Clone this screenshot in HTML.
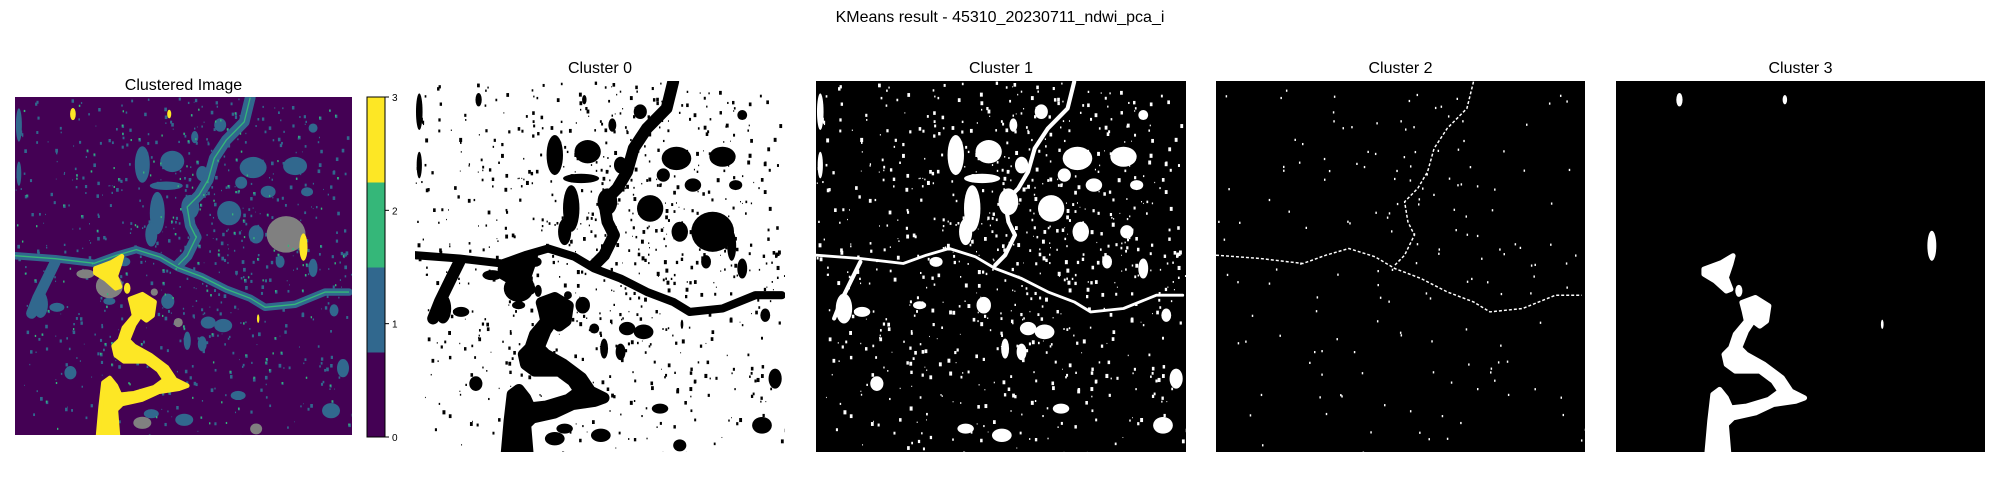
<!DOCTYPE html>
<html><head><meta charset="utf-8"><style>
html,body{margin:0;padding:0;background:#fff;width:2000px;height:500px;overflow:hidden}
svg text{font-family:"Liberation Sans","DejaVu Sans",sans-serif;fill:#000}
</style></head><body>
<svg id="fig" width="2000" height="500" viewBox="0 0 2000 500" xmlns="http://www.w3.org/2000/svg">
<text x="1000" y="22" font-size="16" text-anchor="middle">KMeans result - 45310_20230711_ndwi_pca_i</text>
<g id="panels"></g>
</svg>
<script>
// colorbar data
const cbTicks = [0, 1, 2, 3];
const cbColors = ['#440154', '#31688e', '#35b779', '#fde725'];
const panelTitles = ['Clustered Image', 'Cluster 0', 'Cluster 1', 'Cluster 2', 'Cluster 3'];
// shapes (zoom coords of Cluster 3 panel: x 708..1534, y 242..1352)
const sShape = [[905,805],[945,785],[970,765],[965,790],[955,830],[965,865],[955,870],[930,840],[905,820]];
const sShape2 = [[990,905],[1020,890],[1050,915],[1045,960],[1030,975],[1015,960],[1000,990],[985,1040],[1000,1060],[1040,1090],[1080,1130],[1100,1170],[1130,1190],[1110,1200],[1060,1210],[1020,1235],[970,1250],[955,1270],[960,1352],[912,1352],[918,1260],[925,1180],[940,1165],[955,1190],[965,1220],[1000,1215],[1050,1195],[1075,1170],[1060,1140],[1030,1110],[975,1110],[955,1090],[950,1060],[965,1040],[975,1000],[1000,960],[995,930]];
const yellowBlobs = [[850,298,7,20],[1086,298,5,14],[1415,735,10,45],[1304,970,3,14],[983,870,8,18]];
// river lines (zoom coords of Cluster 0 panel: x 15..1140, y 18..1130)
const mainRiver = [[800,20],[780,100],[720,160],[680,220],[660,290],[630,340],[590,380],[600,440],[620,480],[590,540],[560,570]];
const crossRiver = [[15,540],[150,550],[280,565],[350,540],[420,520],[500,545],[560,580],[640,610],[720,650],[800,680],[850,710],[950,700],[1050,660],[1130,660]];
const westRiver = [[150,560],[120,620],[90,680],[70,730]];
// blue blobs [cx,cy,rx,ry] in Cluster 0 zoom coords
const blueBlobs = [[540,230,40,35],[525,690,22,25],[950,245,40,30],[810,250,45,35],[730,400,40,40],[490,400,25,70],[600,380,30,40],[520,310,55,14],[100,700,25,45],[155,710,25,15],[28,110,10,55],[28,270,8,40],[700,110,20,22],[615,150,12,20],[1110,910,20,30],[200,925,20,22],[660,760,25,20],[710,770,30,22],[820,470,25,30],[960,470,20,20],[440,240,25,60],[470,470,20,40],[1010,120,15,15],[640,830,15,25],[590,820,12,30],[860,330,25,20],[640,270,20,25],[990,330,20,15],[770,300,20,20],[380,560,20,15],[330,690,20,12],[1080,720,15,20],[900,560,15,20],[1010,580,15,30],[470,1060,25,15],[580,1080,30,20],[760,1000,25,15],[1070,1050,30,25]];
const grayBlobs = [[920,470,65,60],[330,640,45,40],[250,600,30,15],[820,1110,20,18],[440,1090,30,20],[560,760,15,15],[480,660,12,12]];
const C3 = (p) => [(p[0]-708)/826, (p[1]-242)/1110];
const C0 = (p) => [(p[0]-15)/1125, (p[1]-18)/1112];
const NS = 'http://www.w3.org/2000/svg';
function mk(tag, attrs, parent){ const e=document.createElementNS(NS,tag); for(const k in attrs) e.setAttribute(k,attrs[k]); parent.appendChild(e); return e; }
function poly(pts, conv, W, H){ return pts.map(p=>{const q=conv(p);return (q[0]*W).toFixed(1)+','+(q[1]*H).toFixed(1);}).join(' '); }
// deterministic speckle texture
let seed = 12345;
function rnd(){ seed = (seed*1103515245+12345) % 2147483648; return seed/2147483648; }
const speck = [];
for(let i=0;i<1400;i++){ const x=rnd(), y=rnd(), s=0.002+rnd()*0.006; const c=Math.hypot(x-0.55,y-0.4); if(rnd()<1.1-c*1.3) speck.push([x,y,s]); }
const panels = [
  {x:15,y:97,w:337,h:338,mode:'cl',ty:90},
  {x:415,y:81,w:370,h:371,mode:'c0',ty:73},
  {x:816,y:81,w:370,h:371,mode:'c1',ty:73},
  {x:1216,y:81,w:369,h:371,mode:'c2',ty:73},
  {x:1616,y:81,w:369,h:371,mode:'c3',ty:73}
];
const root = document.getElementById('panels');
panels.forEach((P, idx) => {
  const W=P.w, H=P.h, m=P.mode;
  const t = mk('text',{x:P.x+W/2,y:P.ty,'font-size':16,'text-anchor':'middle'},root);
  t.textContent = panelTitles[idx];
  
  
  const cp = mk('clipPath',{id:'cp'+idx},root);
  mk('rect',{x:0,y:0,width:W,height:H},cp);
  const g = mk('g',{transform:`translate(${P.x},${P.y})`,'clip-path':`url(#cp${idx})`},root);
  
  
  const bg = {cl:'#440154',c0:'#fff',c1:'#000',c2:'#000',c3:'#000'}[m];
  mk('rect',{x:0,y:0,width:W,height:H,fill:bg},g);
  const blue = {cl:'#31688e',c0:'#000',c1:'#fff'}[m];
  const gray = {cl:'#808080',c0:'#000'}[m];
  const green = {cl:'#35b779',c0:'#000',c2:'#fff'}[m];
  const yel = {cl:'#fde725',c0:'#000',c3:'#fff'}[m];
  if(blue){
    speck.forEach(s=>mk('rect',{x:s[0]*W,y:s[1]*H,width:s[2]*W,height:s[2]*H*1.4,fill:blue},g));
    blueBlobs.forEach(b=>{const q=C0(b); mk('ellipse',{cx:q[0]*W,cy:q[1]*H,rx:b[2]/1125*W,ry:b[3]/1112*H,fill:blue},g);});
    [mainRiver,crossRiver,westRiver].forEach((r,ri)=>mk('polyline',{points:poly(r,C0,W,H),fill:'none',stroke:blue,'stroke-width':(m==='c1'?0.35:1)*(ri===1?0.022:0.032)*W,'stroke-linejoin':'round','stroke-linecap':'round'},g));
  }
  if(gray) grayBlobs.forEach(b=>{const q=C0(b); mk('ellipse',{cx:q[0]*W,cy:q[1]*H,rx:b[2]/1125*W,ry:b[3]/1112*H,fill:gray},g);});
  if(green){
    [mainRiver,crossRiver].forEach(r=>mk('polyline',{points:poly(r,C0,W,H),fill:'none',stroke:green,'stroke-width':m==='c0'?0.018*W:0.004*W,'stroke-linejoin':'round','stroke-dasharray':m==='c2'?'3 2':'none'},g));
    if(m!=='c0') speck.filter((s,i)=>i%5===0).forEach(s=>mk('rect',{x:s[0]*W,y:s[1]*H,width:0.004*W,height:0.006*H,fill:green},g));
  }
  if(yel){
    const sw = m==='c0' ? 0.03*W : 0.014*W;
    [sShape,sShape2].forEach(s=>mk('polygon',{points:poly(s,C3,W,H),fill:yel,stroke:yel,'stroke-width':sw,'stroke-linejoin':'round'},g));
    yellowBlobs.forEach(b=>{const q=C3(b); mk('ellipse',{cx:q[0]*W,cy:q[1]*H,rx:b[2]/826*W,ry:b[3]/1110*H,fill:yel},g);});
  }
});
// colorbar
const cb = mk('g',{},root);


const cbX=367, cbY=97, cbW=18, cbH=340, vmin=0, vmax=3;
const yScale = v => cbY + cbH - (v - vmin)/(vmax - vmin)*cbH;
cbColors.forEach((c,i)=>{
  const r = mk('rect',{x:cbX,y:cbY+cbH*(3-i)/4,width:cbW,height:cbH/4+0.5,fill:c},cb);
  
  
});
mk('rect',{x:cbX,y:cbY,width:cbW,height:cbH,fill:'none',stroke:'#000','stroke-width':1},cb);
cbTicks.forEach(v=>{
  const y=yScale(v);
  mk('line',{x1:cbX+cbW,x2:cbX+cbW+4,y1:y,y2:y,stroke:'#000','stroke-width':1},cb);
  const tx = mk('text',{x:cbX+cbW+7,y:y+4,'font-size':10},cb);
  tx.textContent = v;
  
  
});
</script>
</body></html>
